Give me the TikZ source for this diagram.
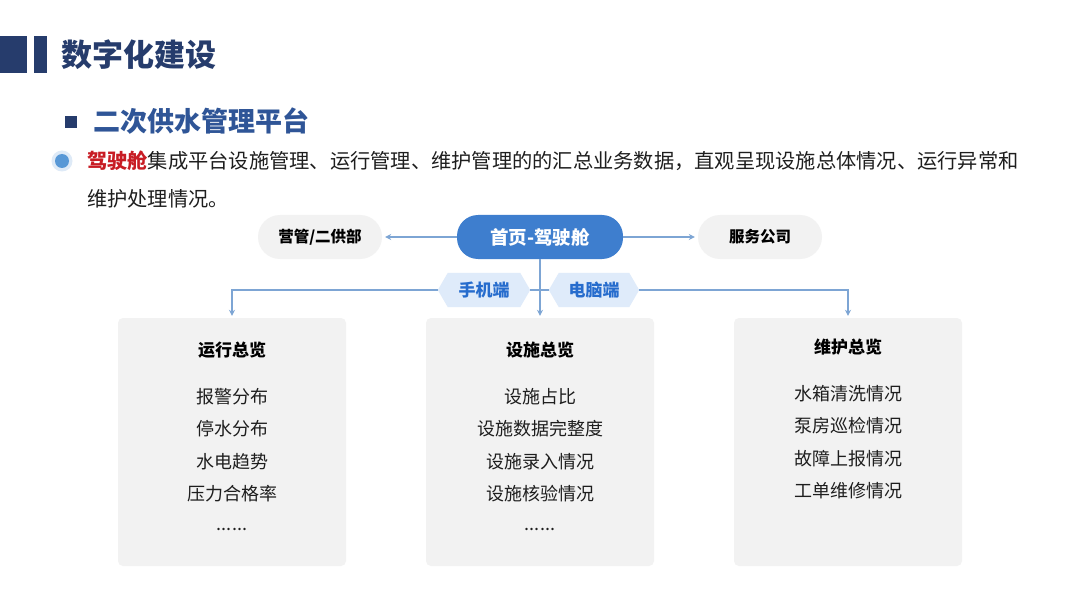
\documentclass[tikz,border=0pt]{standalone}
\usepackage{fontspec}
\setmainfont{Noto Sans CJK SC}
\usetikzlibrary{arrows.meta,calc}
\definecolor{navy}{RGB}{38,60,108}
\definecolor{subblue}{RGB}{47,85,151}
\definecolor{pillblue}{RGB}{62,126,206}
\definecolor{lineblue}{RGB}{125,165,212}
\definecolor{hexfill}{RGB}{223,235,250}
\definecolor{hextext}{RGB}{38,108,205}
\definecolor{greyfill}{RGB}{242,242,242}
\definecolor{redtext}{RGB}{200,28,36}
\definecolor{dotblue}{RGB}{88,152,214}
\definecolor{halo}{RGB}{222,234,247}
\definecolor{bodytext}{RGB}{30,30,30}
\tikzset{
  greypill/.style={fill=greyfill, rounded corners=22pt, minimum width=124pt, minimum height=44pt, inner sep=0pt, font=\bfseries\fontsize{15.5}{16}\selectfont, text=black},
  homepill/.style={fill=pillblue, rounded corners=21pt, minimum width=166pt, minimum height=44pt, inner sep=0pt, text=white, font=\bfseries\fontsize{18.5}{19}\selectfont},
  hexlabel/.style={minimum height=34pt, inner sep=0pt, text=hextext, font=\bfseries\fontsize{17}{18}\selectfont},
  panel/.style={fill=greyfill, rounded corners=5pt, minimum width=228pt, minimum height=248pt, inner sep=0pt},
  paneltitle/.style={font=\bfseries\fontsize{17}{18}\selectfont, text=black, inner sep=0pt},
  item/.style={font=\fontsize{18}{19}\selectfont, text=bodytext, inner sep=0pt},
  conn/.style={draw=lineblue, line width=1.1pt, -{Stealth[length=6pt,width=6pt]}},
  plain/.style={draw=lineblue, line width=1.1pt},
}
\newcommand{\hexbg}[1]{%
  \fill[hexfill] (#1.west) -- ($(#1.north west)+(10pt,0)$) -- ($(#1.north east)+(-10pt,0)$) -- (#1.east) -- ($(#1.south east)+(-10pt,0)$) -- ($(#1.south west)+(10pt,0)$) -- cycle;}
\begin{document}
\begin{tikzpicture}[x=1pt,y=-1pt]
\useasboundingbox[fill=white] (0,0) rectangle (1080,607);
% header decoration
\fill[navy] (0,36) rectangle (27,73);
\fill[navy] (34,36) rectangle (47,73);
\node[anchor=west, inner sep=0pt, text=navy, font=\bfseries\fontsize{31}{32}\selectfont] (title) at (61,55) {数字化建设};
% subtitle
\fill[navy] (65,116) rectangle (77,128);
\node[anchor=west, inner sep=0pt, text=subblue, font=\bfseries\fontsize{27}{28}\selectfont] (sub) at (93,121) {二次供水管理平台};
% bullet paragraph
\fill[halo] (62,161) circle (10.5pt);
\fill[dotblue] (62,161) circle (7pt);
\node[anchor=west, inner sep=0pt, text=bodytext, font=\fontsize{20.25}{21}\selectfont] (line1) at (87,161) {\textcolor{redtext}{\bfseries 驾驶舱}集成平台设施管理、运行管理、维护管理的的汇总业务数据，直观呈现设施总体情况、运行异常和};
\node[anchor=west, inner sep=0pt, text=bodytext, font=\fontsize{20.25}{21}\selectfont] (line2) at (87,199) {维护处理情况。};
% top nodes
\node[homepill] (home) at (540,237) {首页-驾驶舱};
\node[greypill] (yg) at (320,237) {营管/二供部};
\node[greypill] (fw) at (760,237) {服务公司};
\draw[conn, shorten >=3pt] (home.west) -- (yg.east);
\draw[conn, shorten >=3pt] (home.east) -- (fw.west);
% hex labels
\node[hexlabel, minimum width=92pt] (mob) at (484,290) {};
\node[hexlabel, minimum width=90pt] (pc) at (594,290) {};
\hexbg{mob}
\hexbg{pc}
\node[hexlabel] at (mob) {手机端};
\node[hexlabel] at (pc) {电脑端};
% panels
\node[panel] (p1) at (232,442) {};
\node[panel] (p2) at (540,442) {};
\node[panel] (p3) at (848,442) {};
\draw[conn, shorten >=2pt] (home.south) -- (p2.north);
\draw[plain] (mob.east) -- (pc.west);
\draw[conn, shorten >=2pt] (mob.west) -| (p1.north);
\draw[conn, shorten >=2pt] (pc.east) -| (p3.north);
% panel 1
\node[paneltitle] (t1) at (232,350) {运行总览};
\node[item] (a1) at (232,397) {报警分布};
\node[item] (a2) at (232,429) {停水分布};
\node[item] (a3) at (232,462) {水电趋势};
\node[item] (a4) at (232,494) {压力合格率};
\node[item] (a5) at (232,529) {......};
% panel 2
\node[paneltitle] (t2) at (540,350) {设施总览};
\node[item] (b1) at (540,397) {设施占比};
\node[item] (b2) at (540,429) {设施数据完整度};
\node[item] (b3) at (540,462) {设施录入情况};
\node[item] (b4) at (540,494) {设施核验情况};
\node[item] (b5) at (540,529) {......};
% panel 3
\node[paneltitle] (t3) at (848,347) {维护总览};
\node[item] (d1) at (848,394) {水箱清洗情况};
\node[item] (d2) at (848,426) {泵房巡检情况};
\node[item] (d3) at (848,459) {故障上报情况};
\node[item] (d4) at (848,491) {工单维修情况};
\end{tikzpicture}
\end{document}
